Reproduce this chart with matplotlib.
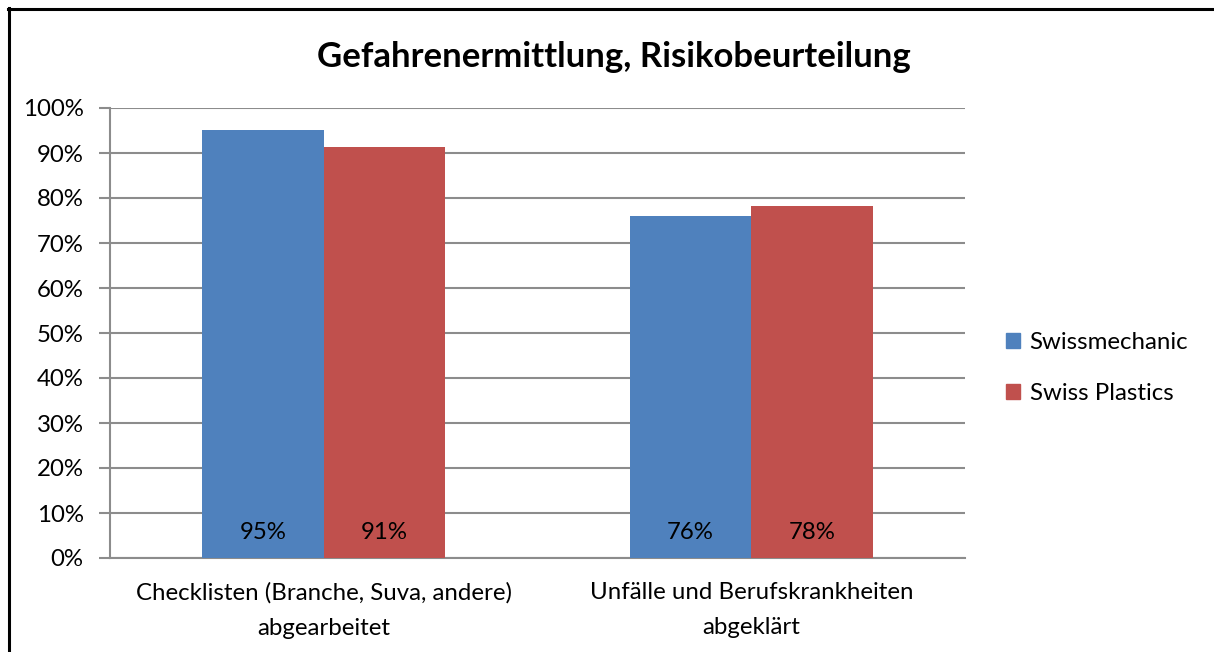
import matplotlib
matplotlib.use("Agg")
import matplotlib.pyplot as plt
from matplotlib.lines import Line2D
import numpy as np

categories = ["Checklisten (Branche, Suva, andere)\nabgearbeitet",
              "Unfälle und Berufskrankheiten\nabgeklärt"]
series_names = ["Swissmechanic", "Swiss Plastics"]
swissmechanic = [0.951, 0.76]
swiss_plastics = [0.914, 0.782]
value_labels_sm = ["95%", "76%"]
value_labels_sp = ["91%", "78%"]
yticks = [i / 10 for i in range(11)]
ytick_labels = [f"{i*10}%" for i in range(11)]
title = "Gefahrenermittlung, Risikobeurteilung"

plt.rcParams['font.family'] = ['Lato', 'DejaVu Sans']

W, H = 1214, 652
fig = plt.figure(figsize=(W / 100, H / 100), dpi=100)
ax = fig.add_axes([110 / W, 1 - 558 / H, 855 / W, 450 / H])

blue = "#4F81BD"
red = "#C0504D"
grid = "#8C8C8C"
fs = 17.3

x = np.arange(len(categories))
bw = 0.284
b1 = ax.bar(x - bw / 2, swissmechanic, bw, color=blue, label=series_names[0], zorder=3)
b2 = ax.bar(x + bw / 2, swiss_plastics, bw, color=red, label=series_names[1], zorder=3)

for rect, lab in zip(b1, value_labels_sm):
    ax.text(rect.get_x() + rect.get_width() / 2, 0.056, lab, ha="center", va="center",
            fontsize=fs, color="black", zorder=4)
for rect, lab in zip(b2, value_labels_sp):
    ax.text(rect.get_x() + rect.get_width() / 2, 0.056, lab, ha="center", va="center",
            fontsize=fs, color="black", zorder=4)

ax.set_xlim(-0.5, 1.5)
ax.set_ylim(0, 1.0)
ax.set_yticks(yticks)
ax.set_yticklabels(ytick_labels, fontsize=fs)
ax.set_xticks(x)
ax.set_xticklabels(categories, fontsize=fs, linespacing=1.85)
ax.tick_params(axis="x", length=0, pad=17)
ax.tick_params(axis="y", length=8, width=1.5, color=grid, pad=11)
ax.yaxis.grid(True, color=grid, linewidth=1.5, zorder=0)
ax.set_axisbelow(True)
for s in ["top", "right"]:
    ax.spines[s].set_visible(False)
ax.spines["left"].set_color(grid)
ax.spines["left"].set_linewidth(1.5)
ax.spines["bottom"].set_color(grid)
ax.spines["bottom"].set_linewidth(1.5)

fig.text(614 / W, 1 - 57 / H, title, ha="center", va="center",
         fontsize=25, fontweight="bold")

handles = [plt.Rectangle((0, 0), 1, 1, color=blue), plt.Rectangle((0, 0), 1, 1, color=red)]
fig.legend(handles, series_names, loc="center left", bbox_to_anchor=(1006 / W, 1 - 368 / H),
           frameon=False, fontsize=fs, handlelength=0.58, handleheight=0.58,
           handletextpad=0.4, labelspacing=1.25, borderpad=0, borderaxespad=0)

fig.add_artist(Line2D([8 / W, 1.0], [1 - 8.5 / H, 1 - 8.5 / H], color="black", linewidth=2.2,
                      transform=fig.transFigure))
fig.add_artist(Line2D([8.5 / W, 8.5 / W], [0, 1 - 8 / H], color="black", linewidth=2.2,
                      transform=fig.transFigure))

fig.savefig("out.png", dpi=100)
